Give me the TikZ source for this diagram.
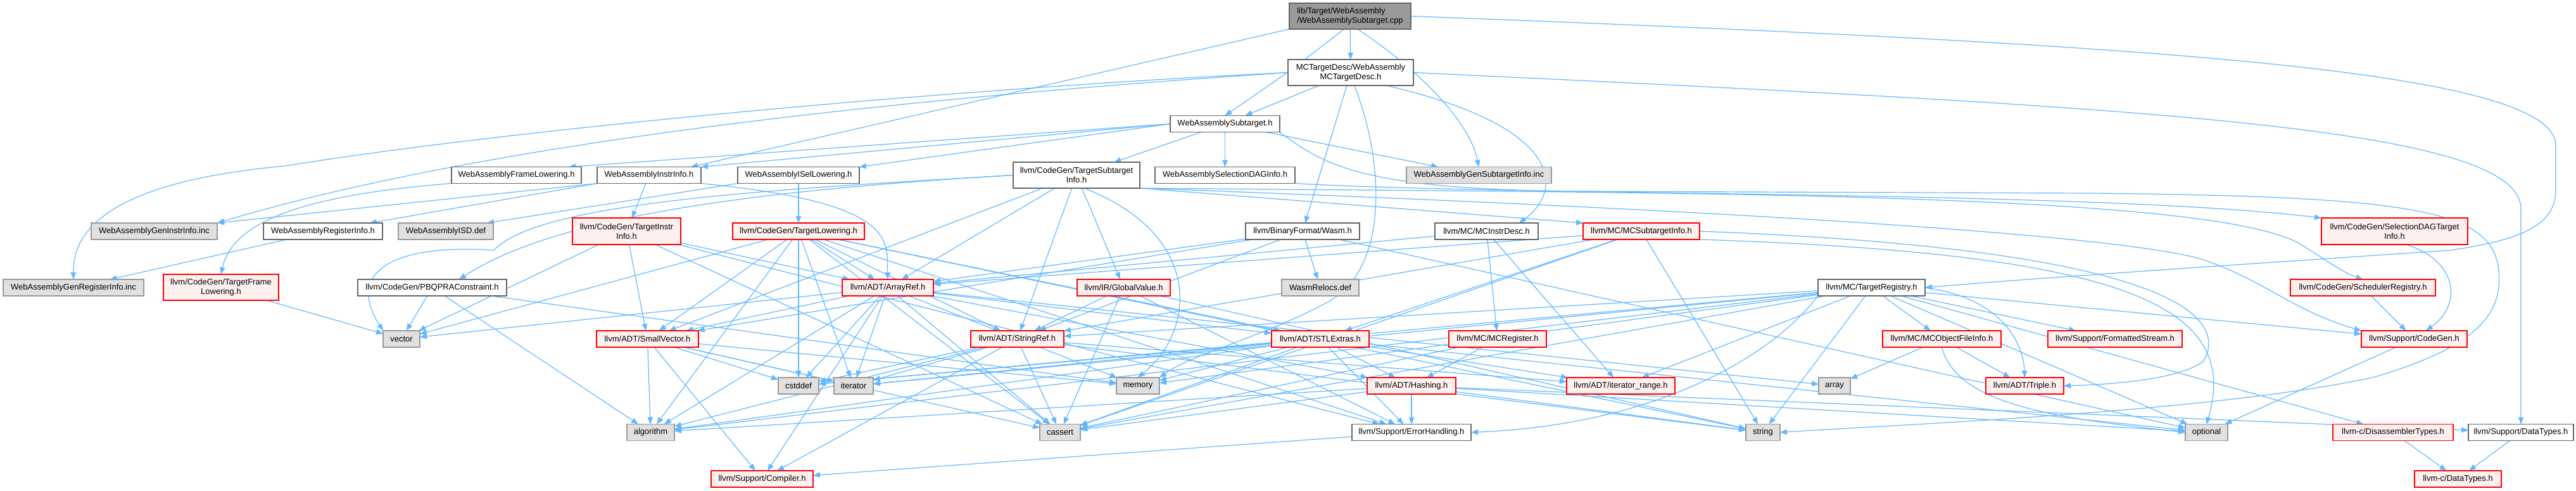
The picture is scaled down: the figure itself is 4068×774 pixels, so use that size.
\documentclass[tikz,border=0pt]{standalone}
\usepackage{fontspec}
\setmainfont{Liberation Sans}
\usetikzlibrary{arrows.meta,backgrounds}
\definecolor{edgec}{HTML}{63B8FF}
\definecolor{redfill}{HTML}{FFF0F0}
\definecolor{grayfill}{HTML}{E0E0E0}
\definecolor{rootfill}{HTML}{999999}
\definecolor{wborder}{HTML}{666666}
\definecolor{gborder}{HTML}{999999}
\definecolor{rborder}{HTML}{FF0000}
\newcommand\nd[7]{\node[#1,minimum width=#5pt,minimum height=#6pt] (#2) at (#3,#4) {#7};}
\begin{document}
\begin{tikzpicture}[x=1pt,y=-1pt,
  every node/.style={font=\fontsize{13}{15}\selectfont, inner sep=0pt, outer sep=0pt, line width=1.3pt, align=center},
  wbox/.style={draw=wborder, fill=white},
  gbox/.style={draw=gborder, fill=grayfill},
  rbox/.style={draw=rborder, fill=redfill},
  rootbox/.style={draw=wborder, fill=rootfill},
  conn/.style={draw=edgec, line width=1.2pt, -{Triangle[length=11pt,width=8.5pt]}},
]
\useasboundingbox (0,0) rectangle (4068,774);
% row 0-1
\nd{rootbox,align=left}{root}{2132}{25.5}{192}{41}{lib/Target/WebAssembly\\/WebAssemblySubtarget.cpp}
\nd{wbox}{mctd}{2133}{114.5}{198}{41}{MCTargetDesc/WebAssembly\\MCTargetDesc.h}
\nd{wbox}{sub}{1934.5}{195.5}{173}{26}{WebAssemblySubtarget.h}
% row 3
\nd{wbox}{frame}{815.5}{276.5}{205}{26}{WebAssemblyFrameLowering.h}
\nd{wbox}{instr}{1025}{276.5}{164}{26}{WebAssemblyInstrInfo.h}
\nd{wbox}{isel}{1261}{276.5}{192}{26}{WebAssemblyISelLowering.h}
\nd{wbox}{tsi}{1700}{276.5}{200}{41}{llvm/CodeGen/TargetSubtarget\\Info.h}
\nd{wbox}{sdag}{1934.5}{276.5}{221}{26}{WebAssemblySelectionDAGInfo.h}
\nd{gbox}{gensub}{2335.5}{276.5}{229}{26}{WebAssemblyGenSubtargetInfo.inc}
% row 4
\nd{gbox}{geninstr}{243.5}{365}{199}{26}{WebAssemblyGenInstrInfo.inc}
\nd{wbox}{reginfo}{510}{365}{188}{26}{WebAssemblyRegisterInfo.h}
\nd{gbox}{isd}{704}{365}{150}{26}{WebAssemblyISD.def}
\nd{rbox}{tii}{989.5}{365}{171}{42}{llvm/CodeGen/TargetInstr\\Info.h}
\nd{rbox}{tl}{1261}{365}{208}{26}{llvm/CodeGen/TargetLowering.h}
\nd{wbox}{wasm}{2057}{365}{180}{26}{llvm/BinaryFormat/Wasm.h}
\nd{wbox}{mcid}{2347.5}{365}{163}{26}{llvm/MC/MCInstrDesc.h}
\nd{rbox}{mcsti}{2592}{365}{184}{26}{llvm/MC/MCSubtargetInfo.h}
\nd{rbox}{sdti}{3781.5}{365}{231}{42}{llvm/CodeGen/SelectionDAGTarget\\Info.h}
% row 5
\nd{gbox}{genreg}{116}{454}{222}{26}{WebAssemblyGenRegisterInfo.inc}
\nd{rbox}{tfl}{349}{453.5}{182}{41}{llvm/CodeGen/TargetFrame\\Lowering.h}
\nd{wbox}{pbqp}{682.5}{454}{235}{26}{llvm/CodeGen/PBQPRAConstraint.h}
\nd{rbox}{arrayref}{1402}{454}{144}{26}{llvm/ADT/ArrayRef.h}
\nd{rbox}{gv}{1774.5}{454}{147}{26}{llvm/IR/GlobalValue.h}
\nd{gbox}{relocs}{2085}{454}{122}{26}{WasmRelocs.def}
\nd{wbox}{treg}{2955.5}{454}{169}{26}{llvm/MC/TargetRegistry.h}
\nd{rbox}{sched}{3731.5}{454}{229}{26}{llvm/CodeGen/SchedulerRegistry.h}
% row 6
\nd{gbox}{vector}{634}{535}{58}{26}{vector}
\nd{rbox}{smallvec}{1022.5}{535}{161}{26}{llvm/ADT/SmallVector.h}
\nd{rbox}{stringref}{1606.5}{535}{147}{26}{llvm/ADT/StringRef.h}
\nd{rbox}{stlextras}{2085}{535}{154}{26}{llvm/ADT/STLExtras.h}
\nd{rbox}{mcreg}{2365}{535}{154}{26}{llvm/MC/MCRegister.h}
\nd{rbox}{mcofi}{3066.5}{535}{187}{26}{llvm/MC/MCObjectFileInfo.h}
\nd{rbox}{fstream}{3340}{535}{212}{26}{llvm/Support/FormattedStream.h}
\nd{rbox}{cgen}{3812.5}{535}{167}{26}{llvm/Support/CodeGen.h}
% row 7
\nd{gbox}{cstddef}{1261}{609}{64}{26}{cstddef}
\nd{gbox}{iterator}{1348}{609}{62}{26}{iterator}
\nd{gbox}{memory}{1797}{609}{68}{26}{memory}
\nd{rbox}{hashing}{2229}{609}{140}{26}{llvm/ADT/Hashing.h}
\nd{rbox}{itrange}{2559.5}{609}{171}{26}{llvm/ADT/iterator\_range.h}
\nd{gbox}{array}{2897}{609}{50}{26}{array}
\nd{rbox}{triple}{3197.5}{609}{123}{26}{llvm/ADT/Triple.h}
% row 8
\nd{gbox}{algorithm}{1027.5}{682.5}{75}{26}{algorithm}
\nd{gbox}{cassert}{1674}{682.5}{64}{26}{cassert}
\nd{wbox}{errh}{2229}{682.5}{188}{26}{llvm/Support/ErrorHandling.h}
\nd{gbox}{string}{2784}{682.5}{54}{26}{string}
\nd{gbox}{optional}{3484.5}{682.5}{67}{26}{optional}
\nd{rbox}{disasm}{3779}{682.5}{190}{26}{llvm-c/DisassemblerTypes.h}
\nd{wbox}{sdt}{3981}{682.5}{166}{26}{llvm/Support/DataTypes.h}
% row 9
\nd{rbox}{compiler}{1203.5}{756}{161}{26}{llvm/Support/Compiler.h}
\nd{rbox}{cdt}{3881.5}{756}{137}{26}{llvm-c/DataTypes.h}

\begin{scope}[on background layer]
\fill[white] (0,0) rectangle (4068,774);
\foreach \ea/\eb in {root/mctd, mctd/sub, mctd/wasm,
  sub/tsi, sub/sdag, sub/gensub, instr/tii, reginfo/genreg, isel/tl,
  tfl/vector, pbqp/vector, pbqp/algorithm, pbqp/memory,
  tsi/arrayref, tsi/stringref, tsi/gv, tsi/smallvec,
  tii/arrayref, tii/smallvec, tii/vector, tii/cassert, tii/errh,
  tl/arrayref, tl/smallvec, tl/stringref, tl/stlextras, tl/algorithm, tl/cassert, tl/iterator, tl/cstddef, tl/string, tl/vector, tl/errh,
  arrayref/hashing, arrayref/smallvec, arrayref/stlextras, arrayref/compiler, arrayref/algorithm, arrayref/array, arrayref/cassert, arrayref/cstddef, arrayref/iterator, arrayref/memory, arrayref/vector,
  smallvec/compiler, smallvec/algorithm, smallvec/cassert, smallvec/cstddef, smallvec/iterator, smallvec/memory,
  stringref/itrange, stringref/compiler, stringref/algorithm, stringref/cassert, stringref/cstddef, stringref/string, stringref/iterator,
  stlextras/hashing, stlextras/itrange, stlextras/errh, stlextras/algorithm, stlextras/cassert, stlextras/cstddef, stlextras/iterator, stlextras/memory, stlextras/optional,
  hashing/errh, hashing/sdt, hashing/algorithm, hashing/cassert, hashing/string, hashing/optional,
  errh/compiler, mcreg/hashing, mcreg/cassert,
  mcsti/arrayref, mcsti/stlextras, mcsti/stringref, mcsti/cassert, mcsti/string,
  gv/stringref, gv/cassert, gv/errh, gv/string,
  wasm/arrayref, wasm/smallvec, wasm/stringref, wasm/relocs, wasm/optional,
  mcid/arrayref, mcid/itrange, mcid/mcreg,
  treg/disasm, treg/stringref, treg/itrange, treg/mcofi, treg/cgen, treg/fstream, treg/algorithm, treg/cassert, treg/cstddef, treg/iterator, treg/memory, treg/optional, treg/string,
  mcofi/triple, mcofi/array, sched/cgen, cgen/optional, disasm/cdt, sdt/cdt}
  {\draw[conn] (\ea) -- (\eb);}
% routed connectors
\draw[conn] (root.south west) -- ([xshift=-16pt]instr.north east);
\draw[conn] (root.-115) .. controls (2040,110) .. (sub.north);
\draw[conn] (root.-60) .. controls (2240,110) and (2320,190) .. (gensub.north);
\draw[conn] (root.east) .. controls (3400,70) and (4036,110) .. (4036,230) -- (4036,300) .. controls (4036,360) and (3970,380) .. (3870,395) .. controls (3500,420) and (3200,440) .. (treg.east);
\draw[conn] (mctd.west) .. controls (1500,150) and (800,215) .. (geninstr.north east);
\draw[conn] (mctd.west) .. controls (1500,140) and (800,205) .. (450,262) .. controls (250,280) and (114,330) .. (genreg.north);
\draw[conn] (mctd.-20) .. controls (2470,200) and (2470,300) .. ([xshift=-30pt]mcid.north east);
\draw[conn] (mctd.-75) .. controls (2185,250) and (2195,420) .. (2100,475) .. controls (2000,530) and (1880,560) .. (memory.north east);
\draw[conn] (mctd.east) .. controls (3400,170) and (3981,200) .. (3981,330) -- (sdt.north);
\draw[conn] (sub.west) -- ([xshift=-20pt]frame.north east);
\draw[conn] (sub.west) -- (instr.north east);
\draw[conn] (sub.west) -- (isel.north east);
\draw[conn] (sub.south east) .. controls (2090,260) and (2150,300) .. (2500,302) -- (3300,305) .. controls (3800,310) and (3930,330) .. (3945,420) .. controls (3955,490) and (3920,545) .. (3750,595) .. controls (3500,650) and (3000,670) .. (string.east);
\draw[conn] (frame.south west) .. controls (450,310) and (365,360) .. (tfl.north);
\draw[conn] (instr.south west) -- (geninstr.north east);
\draw[conn] (instr.south west) -- ([xshift=-20pt]reginfo.north east);
\draw[conn] (instr.south east) .. controls (1420,320) and (1400,380) .. (arrayref.north);
\draw[conn] (isel.south west) -- ([xshift=-10pt]isd.north east);
\draw[conn] (tsi.west) .. controls (1200,300) and (880,340) .. ([xshift=-75pt]pbqp.north east);
\draw[conn] (tsi.west) .. controls (1200,300) and (850,320) .. (780,395) .. controls (640,385) and (540,420) .. (vector.north west);
\draw[conn] (tsi.-60) .. controls (1900,370) and (1890,520) .. (memory.north);
\draw[conn] (tsi.south east) -- (mcsti.north west);
\draw[conn] (tsi.south east) .. controls (2600,305) and (3520,300) .. (3640,390) .. controls (3680,415) and (3700,430) .. (sched.north);
\draw[conn] (tsi.south east) .. controls (2700,330) and (3350,370) .. (3480,410) .. controls (3580,445) and (3620,490) .. (cgen.north west);
\draw[conn] (sdag.south east) .. controls (2400,310) and (3300,300) .. (sdti.north west);
\draw[conn] (sdti.-50) .. controls (3880,410) and (3890,480) .. ([xshift=-65pt]cgen.north east);
\draw[conn] (mcsti.south east) .. controls (3350,400) and (3540,480) .. (optional.north);
\draw[conn] (mcsti.east) .. controls (3350,390) and (3530,480) .. (3480,570) .. controls (3440,600) and (3330,607) .. (triple.east);
\draw[conn] (treg.east) .. controls (3160,470) and (3195,540) .. (triple.north);
\draw[conn] (treg.south west) .. controls (2800,560) and (2620,670) .. (errh.east);
\draw[conn] (mcofi.south) .. controls (3090,640) and (3250,660) .. (optional.west);
\end{scope}
\end{tikzpicture}
\end{document}
